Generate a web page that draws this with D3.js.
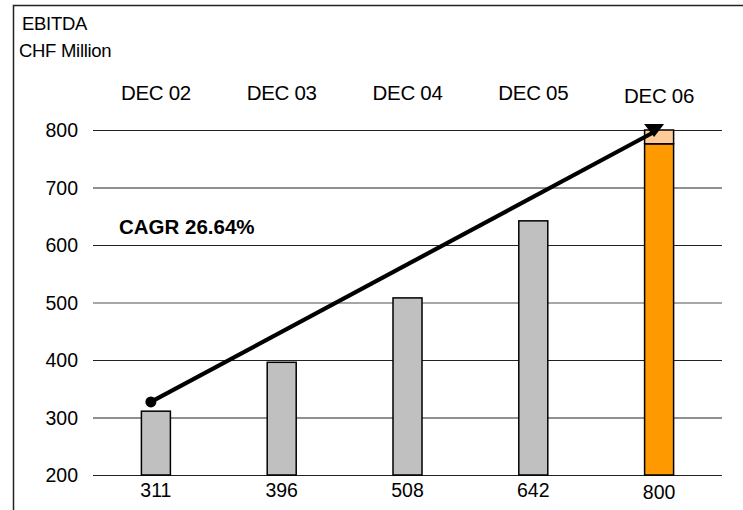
<!DOCTYPE html>
<html><head><meta charset="utf-8">
<script src="https://cdn.jsdelivr.net/npm/d3@7"></script>
<style>body{margin:0;background:#fff;}svg{display:block;font-family:"Liberation Sans",Arial,sans-serif;}</style>
</head><body>
<svg id="c" width="743" height="510"></svg>
<script>
const categories = ["DEC 02","DEC 03","DEC 04","DEC 05","DEC 06"];
const values = [311, 396, 508, 642, 800];
const baseValues = [311, 396, 508, 642, 776];
const topValues = [0, 0, 0, 0, 24];
const yTicks = [200, 300, 400, 500, 600, 700, 800];
const cagrLine = [{cat:"DEC 02", v:327}, {cat:"DEC 06", v:800}];
const cagrLabel = "CAGR 26.64%";

const svg = d3.select("#c");
const x = d3.scaleBand().domain(categories).range([93, 722]);
const y = d3.scaleLinear().domain([200, 800]).range([475, 130]);
const bw = 29;

// frame
svg.append("path").attr("d","M13.5,510 V5.5 H743").attr("fill","none").attr("stroke","#222").attr("stroke-width",1.5);

svg.append("text").attr("x",22).attr("y",30).attr("font-size",18.5).attr("letter-spacing","-0.3").text("EBITDA");
svg.append("text").attr("x",19).attr("y",57).attr("font-size",18.5).attr("letter-spacing","-0.3").text("CHF Million");

// gridlines via axis
const yAxis = d3.axisLeft(y).tickValues(yTicks).tickSize(-(722-93)).tickPadding(15);
const g = svg.append("g").attr("transform","translate(93,0)").call(yAxis);
g.select(".domain").remove();
g.selectAll(".tick line").attr("stroke", d => d===500 ? "#888" : "#222").attr("stroke-width", d => d===500 ? 1.6 : 1.1);
g.selectAll(".tick text").attr("font-size",19.5).attr("fill","#000").attr("dy","0.35em").attr("font-family","Liberation Sans, Arial, sans-serif");

// bars
categories.forEach((c,i) => {
  const cx = x(c) + x.bandwidth()/2;
  const last = i === categories.length-1;
  svg.append("rect").attr("x",cx-bw/2).attr("width",bw)
    .attr("y",y(baseValues[i])).attr("height",y(200)-y(baseValues[i]))
    .attr("fill", last ? "#ff9900" : "#c0c0c0").attr("stroke","#000").attr("stroke-width",1.5);
  if (topValues[i] > 0) {
    svg.append("rect").attr("x",cx-bw/2).attr("width",bw)
      .attr("y",y(baseValues[i]+topValues[i])).attr("height",y(baseValues[i])-y(baseValues[i]+topValues[i]))
      .attr("fill","#ffcc99").attr("stroke","#000").attr("stroke-width",1.5);
  }
  svg.append("text").attr("x",cx).attr("y", last ? 103 : 100).attr("text-anchor","middle")
    .attr("font-size",20.5).attr("letter-spacing","-0.3").text(c);
  svg.append("text").attr("x",cx).attr("y", last ? 499 : 497).attr("text-anchor","middle")
    .attr("font-size",19.5).text(values[i]);
});

// CAGR line
const lx = d => x(d.cat) + x.bandwidth()/2 - 5;
svg.append("line").attr("x1",lx(cagrLine[0])).attr("y1",y(cagrLine[0].v))
  .attr("x2",lx(cagrLine[1])).attr("y2",y(cagrLine[1].v)+2)
  .attr("stroke","#000").attr("stroke-width",4.2);
svg.append("circle").attr("cx",lx(cagrLine[0])).attr("cy",y(cagrLine[0].v)).attr("r",5.5).attr("fill","#000");
const ex = lx(cagrLine[1]), ey = y(cagrLine[1].v);
svg.append("path").attr("d",`M${ex-10},${ey-6} L${ex+10},${ey-6} L${ex},${ey+7} Z`).attr("fill","#000");

svg.append("text").attr("x",119).attr("y",234).attr("font-size",20.5).attr("font-weight","bold").text(cagrLabel);
</script>
</body></html>
